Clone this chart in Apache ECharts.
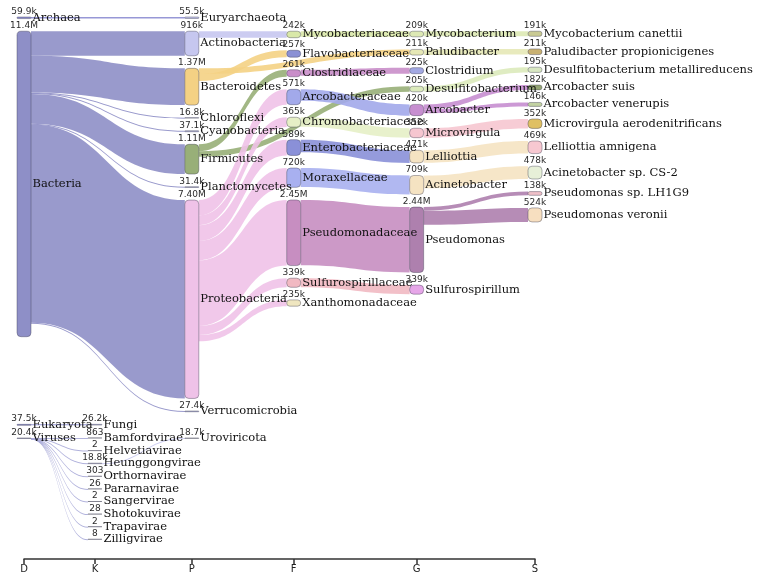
<!DOCTYPE html>
<html><head><meta charset="utf-8">
<script src="https://cdn.jsdelivr.net/npm/echarts@6/dist/echarts.min.js"></script>
<style>html,body{margin:0;padding:0;background:#fff}#c{width:759px;height:583px}</style>
</head><body><div id="c"></div>
<script>
// ---------------- data ----------------
// taxonomic rank axis
const rankNames = ['D', 'K', 'P', 'F', 'G', 'S'];
// position of each rank along the rank axis (uneven, as in the reference)
const rankPos = [0, 0.694, 1.642, 2.639, 3.842, 5];

// nodes: [name, rank, reads]
const archaeaNodes = [
  ['Archaea', 'D', 59900],
  ['Euryarchaeota', 'P', 55500]
];
const archaeaLinks = [
  ['Archaea', 'Euryarchaeota', 55500]
];

const bacteriaNodes = [
  ['Bacteria', 'D', 11400000],
  ['Actinobacteria', 'P', 916000],
  ['Bacteroidetes', 'P', 1370000],
  ['Chloroflexi', 'P', 16800],
  ['Cyanobacteria', 'P', 37100],
  ['Firmicutes', 'P', 1110000],
  ['Planctomycetes', 'P', 31400],
  ['Proteobacteria', 'P', 7400000],
  ['Verrucomicrobia', 'P', 27400],
  ['Mycobacteriaceae', 'F', 242000],
  ['Flavobacteriaceae', 'F', 257000],
  ['Clostridiaceae', 'F', 261000],
  ['Arcobacteraceae', 'F', 571000],
  ['Chromobacteriaceae', 'F', 365000],
  ['Enterobacteriaceae', 'F', 589000],
  ['Moraxellaceae', 'F', 720000],
  ['Pseudomonadaceae', 'F', 2450000],
  ['Sulfurospirillaceae', 'F', 339000],
  ['Xanthomonadaceae', 'F', 235000],
  ['Mycobacterium', 'G', 209000],
  ['Paludibacter', 'G', 211000],
  ['Clostridium', 'G', 225000],
  ['Desulfitobacterium', 'G', 205000],
  ['Arcobacter', 'G', 420000],
  ['Microvirgula', 'G', 352000],
  ['Lelliottia', 'G', 471000],
  ['Acinetobacter', 'G', 709000],
  ['Pseudomonas', 'G', 2440000],
  ['Sulfurospirillum', 'G', 339000],
  ['Mycobacterium canettii', 'S', 191000],
  ['Paludibacter propionicigenes', 'S', 211000],
  ['Desulfitobacterium metallireducens', 'S', 195000],
  ['Arcobacter suis', 'S', 182000],
  ['Arcobacter venerupis', 'S', 146000],
  ['Microvirgula aerodenitrificans', 'S', 352000],
  ['Lelliottia amnigena', 'S', 469000],
  ['Acinetobacter sp. CS-2', 'S', 478000],
  ['Pseudomonas sp. LH1G9', 'S', 138000],
  ['Pseudomonas veronii', 'S', 524000]
];
const bacteriaLinks = [
  ['Bacteria', 'Actinobacteria', 916000],
  ['Bacteria', 'Bacteroidetes', 1370000],
  ['Bacteria', 'Chloroflexi', 16800],
  ['Bacteria', 'Cyanobacteria', 37100],
  ['Bacteria', 'Firmicutes', 1110000],
  ['Bacteria', 'Planctomycetes', 31400],
  ['Bacteria', 'Proteobacteria', 7400000],
  ['Bacteria', 'Verrucomicrobia', 27400],
  ['Actinobacteria', 'Mycobacteriaceae', 242000],
  ['Bacteroidetes', 'Flavobacteriaceae', 257000],
  ['Bacteroidetes', 'Paludibacter', 211000],
  ['Firmicutes', 'Clostridiaceae', 261000],
  ['Firmicutes', 'Desulfitobacterium', 205000],
  ['Proteobacteria', 'Arcobacteraceae', 571000],
  ['Proteobacteria', 'Chromobacteriaceae', 365000],
  ['Proteobacteria', 'Enterobacteriaceae', 589000],
  ['Proteobacteria', 'Moraxellaceae', 720000],
  ['Proteobacteria', 'Pseudomonadaceae', 2450000],
  ['Proteobacteria', 'Sulfurospirillaceae', 339000],
  ['Proteobacteria', 'Xanthomonadaceae', 235000],
  ['Mycobacteriaceae', 'Mycobacterium', 209000],
  ['Clostridiaceae', 'Clostridium', 225000],
  ['Arcobacteraceae', 'Arcobacter', 420000],
  ['Chromobacteriaceae', 'Microvirgula', 352000],
  ['Enterobacteriaceae', 'Lelliottia', 471000],
  ['Moraxellaceae', 'Acinetobacter', 709000],
  ['Pseudomonadaceae', 'Pseudomonas', 2440000],
  ['Sulfurospirillaceae', 'Sulfurospirillum', 339000],
  ['Mycobacterium', 'Mycobacterium canettii', 191000],
  ['Paludibacter', 'Paludibacter propionicigenes', 211000],
  ['Desulfitobacterium', 'Desulfitobacterium metallireducens', 195000],
  ['Arcobacter', 'Arcobacter suis', 182000],
  ['Arcobacter', 'Arcobacter venerupis', 146000],
  ['Microvirgula', 'Microvirgula aerodenitrificans', 352000],
  ['Lelliottia', 'Lelliottia amnigena', 469000],
  ['Acinetobacter', 'Acinetobacter sp. CS-2', 478000],
  ['Pseudomonas', 'Pseudomonas sp. LH1G9', 138000],
  ['Pseudomonas', 'Pseudomonas veronii', 524000]
];

const eukaryotaNodes = [
  ['Eukaryota', 'D', 37500],
  ['Fungi', 'K', 26200]
];
const eukaryotaLinks = [
  ['Eukaryota', 'Fungi', 26200]
];

const virusNodes = [
  ['Viruses', 'D', 20400],
  ['Bamfordvirae', 'K', 863],
  ['Helvetiavirae', 'K', 2],
  ['Heunggongvirae', 'K', 18800],
  ['Orthornavirae', 'K', 303],
  ['Pararnavirae', 'K', 26],
  ['Sangervirae', 'K', 2],
  ['Shotokuvirae', 'K', 28],
  ['Trapavirae', 'K', 2],
  ['Zilligvirae', 'K', 8],
  ['Uroviricota', 'P', 18700]
];
const virusLinks = [
  ['Viruses', 'Bamfordvirae', 863],
  ['Viruses', 'Helvetiavirae', 2],
  ['Viruses', 'Heunggongvirae', 18800],
  ['Viruses', 'Orthornavirae', 303],
  ['Viruses', 'Pararnavirae', 26],
  ['Viruses', 'Sangervirae', 2],
  ['Viruses', 'Shotokuvirae', 28],
  ['Viruses', 'Trapavirae', 2],
  ['Viruses', 'Zilligvirae', 8],
  ['Heunggongvirae', 'Uroviricota', 18700]
];

// ---------------- styles ----------------
const nodeColor = {
  'Archaea': '#8c8dd2', 'Bacteria': '#8e8fc7', 'Eukaryota': '#8c8dd2', 'Viruses': '#a9aad8',
  'Euryarchaeota': '#c6c7ef', 'Actinobacteria': '#c6c7ef', 'Bacteroidetes': '#f4d184',
  'Chloroflexi': '#b9bae6', 'Cyanobacteria': '#b9bae6', 'Firmicutes': '#98af78',
  'Planctomycetes': '#b9bae6', 'Proteobacteria': '#efc2e8', 'Verrucomicrobia': '#b9bae6',
  'Fungi': '#c6c7ef', 'Bamfordvirae': '#c6c7ef', 'Helvetiavirae': '#c6c7ef', 'Heunggongvirae': '#c6c7ef',
  'Orthornavirae': '#c6c7ef', 'Pararnavirae': '#c6c7ef', 'Sangervirae': '#c6c7ef',
  'Shotokuvirae': '#c6c7ef', 'Trapavirae': '#c6c7ef', 'Zilligvirae': '#c6c7ef', 'Uroviricota': '#dcdcdc',
  'Mycobacteriaceae': '#d9e8a8', 'Flavobacteriaceae': '#8a90d4', 'Clostridiaceae': '#c98ec9',
  'Arcobacteraceae': '#a2a9ea', 'Chromobacteriaceae': '#e6efc6', 'Enterobacteriaceae': '#8a90d8',
  'Moraxellaceae': '#a8b0f0', 'Pseudomonadaceae': '#c78ec1', 'Sulfurospirillaceae': '#f1b9c2',
  'Xanthomonadaceae': '#efe6c0',
  'Mycobacterium': '#dde9b4', 'Paludibacter': '#e6e8b6', 'Clostridium': '#a2a8e2',
  'Desulfitobacterium': '#dbeabb', 'Arcobacter': '#c78ed0', 'Microvirgula': '#f6c6d0',
  'Lelliottia': '#f5e3c2', 'Acinetobacter': '#f5e3c2', 'Pseudomonas': '#ae80ae',
  'Sulfurospirillum': '#e6a6e8',
  'Mycobacterium canettii': '#c9ca93', 'Paludibacter propionicigenes': '#c9b172',
  'Desulfitobacterium metallireducens': '#d9e8c2', 'Arcobacter suis': '#93a472',
  'Arcobacter venerupis': '#c2d2a2', 'Microvirgula aerodenitrificans': '#dfc063',
  'Lelliottia amnigena': '#f7c8d1', 'Acinetobacter sp. CS-2': '#e7f0d8',
  'Pseudomonas sp. LH1G9': '#efc0c8', 'Pseudomonas veronii': '#f7dfc0'
};

const KY = 26.8e-6;   // pixels per read (shared by every domain band)
const GAP = 12.6;     // node gap
const NODE_W = 14;
const LEFT = 17;
const TOP = 17;
const KX = 102.2;     // pixels per rank-axis unit
const NAME_FONT = 'DejaVu Serif';
const VALUE_FONT = 'DejaVu Sans';

function fmt(v) {
  if (v >= 1e6) return (v / 1e6).toPrecision(3) + 'M';
  if (v >= 1e3) return (v / 1e3).toPrecision(3) + 'k';
  return String(v);
}
function rankValue(r) { return rankPos[rankNames.indexOf(r)]; }

// one sankey band per superkingdom, stacked vertically
const domains = [
  [archaeaNodes, archaeaLinks],
  [bacteriaNodes, bacteriaLinks],
  [eukaryotaNodes, eukaryotaLinks],
  [virusNodes, virusLinks]
];

const visualSeries = [];
const valueSeries = [];
let cursor = TOP;
domains.forEach(([nodes, links]) => {
  // band height so that every band shares the same reads->pixel scale
  const cols = {};
  nodes.forEach(([n, r, v]) => {
    cols[r] = cols[r] || {sum: 0, n: 0};
    cols[r].sum += v; cols[r].n += 1;
  });
  let H = 0;
  Object.values(cols).forEach(c => { H = Math.max(H, c.sum * KY + (c.n - 1) * GAP); });
  // horizontal extent so that all bands share the same rank axis
  const lvl = {};
  nodes.forEach(([n]) => { lvl[n] = 0; });
  for (let k = 0; k < 8; k++) links.forEach(([s, t]) => { lvl[t] = Math.max(lvl[t], lvl[s] + 1); });
  const maxLvl = Math.max(...Object.values(lvl));
  const maxRank = Math.max(...nodes.map(([, r]) => rankValue(r)));
  const maxDepth = Math.max(maxLvl, maxRank);
  const W = maxDepth * KX + NODE_W;

  const base = {
    type: 'sankey', left: LEFT, top: cursor, width: W, height: H,
    nodeWidth: NODE_W, nodeGap: GAP, nodeAlign: 'left', layoutIterations: 0,
    draggable: false, silent: true, animation: false,
    emphasis: {disabled: true}
  };
  const data = nodes.map(([name, r, v]) => ({name: name, value: v, depth: rankValue(r)}));
  const lk = links.map(([s, t, v]) => ({source: s, target: t, value: v}));

  visualSeries.push(Object.assign({}, base, {
    data: data.map(d => Object.assign({}, d, {itemStyle: {color: nodeColor[d.name] || '#c6c7ef'}})),
    links: lk,
    itemStyle: {borderColor: 'rgba(60,60,80,0.4)', borderWidth: 1, borderRadius: 4},
    lineStyle: {color: 'source', opacity: 0.9, curveness: 0.5},
    label: {show: true, position: 'right', distance: 1, formatter: '{b}',
      fontFamily: NAME_FONT, fontSize: 11.5, color: '#111'}
  }));
  valueSeries.push(Object.assign({}, base, {
    data: data,
    links: lk,
    itemStyle: {color: 'rgba(0,0,0,0)', borderWidth: 0},
    lineStyle: {color: 'rgba(0,0,0,0)', opacity: 0},
    label: {show: true, position: 'top', distance: 1, formatter: p => fmt(p.value),
      fontFamily: VALUE_FONT, fontSize: 9, color: '#2a2a2a'}
  }));
  cursor += H + GAP;
});

const chart = echarts.init(document.getElementById('c'), null, {renderer: 'canvas'});
chart.setOption({
  animation: false,
  backgroundColor: '#fff',
  grid: {left: 24, right: 224, top: 540, bottom: 24},
  xAxis: {
    type: 'value', min: 0, max: 5, position: 'bottom',
    axisLine: {show: true, lineStyle: {color: '#333', width: 1.5}},
    axisTick: {show: true, customValues: rankPos, length: 5, lineStyle: {color: '#333', width: 1.5}},
    axisLabel: {show: true, customValues: rankPos, margin: 5, color: '#222', fontSize: 10, fontFamily: VALUE_FONT,
      formatter: v => {
        let best = 0;
        rankPos.forEach((p, i) => { if (Math.abs(p - v) < Math.abs(rankPos[best] - v)) best = i; });
        return rankNames[best];
      }},
    splitLine: {show: false}
  },
  yAxis: {type: 'value', show: false},
  series: visualSeries.concat(valueSeries)
});
</script>
</body></html>
